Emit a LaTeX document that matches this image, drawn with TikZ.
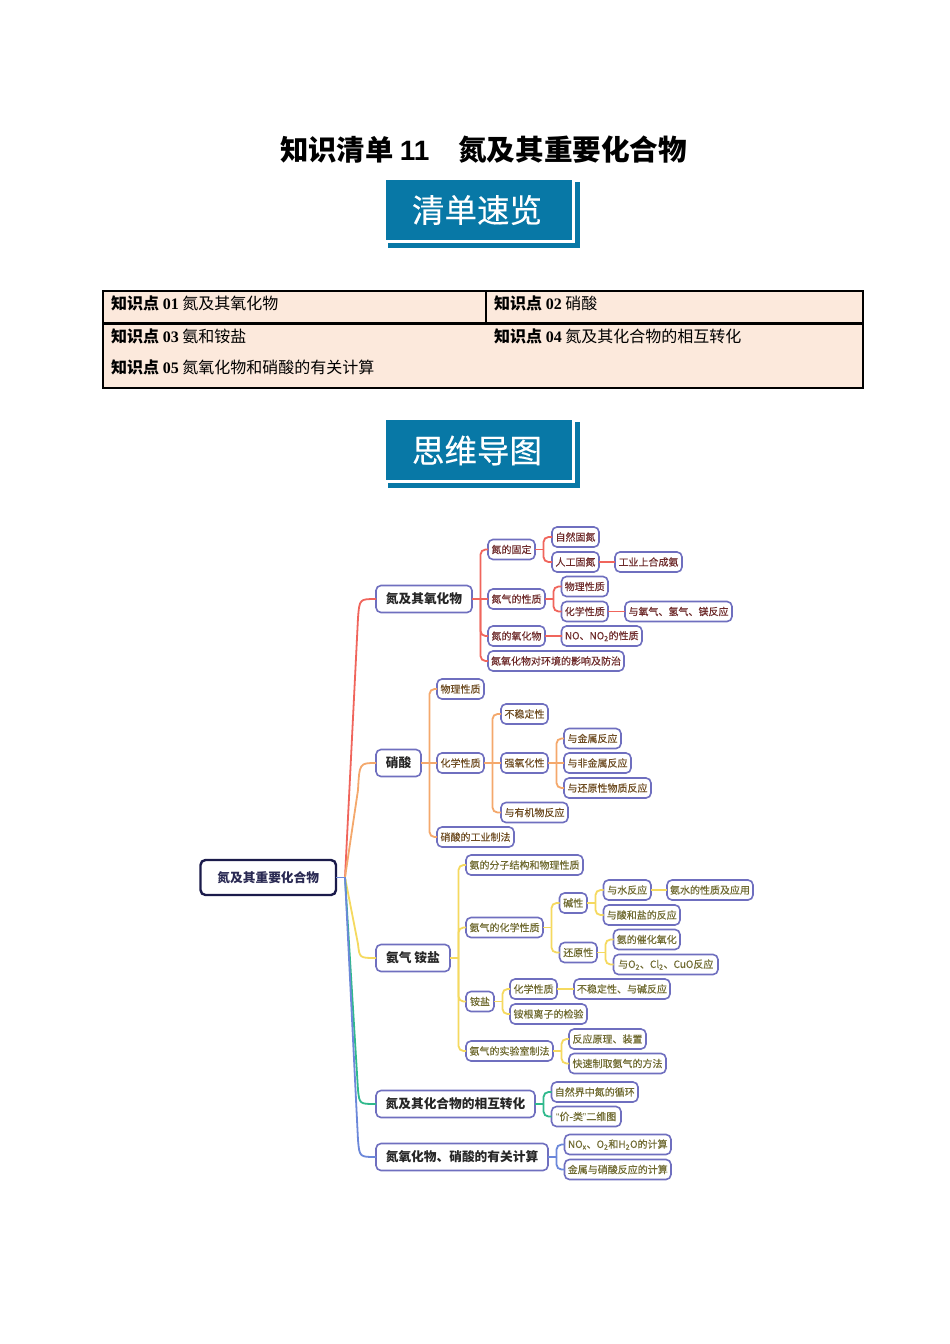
\documentclass[tikz,border=0pt]{standalone}
\usepackage{fontspec}
\setmainfont{Noto Sans CJK SC}
\newfontfamily\medf[FakeBold=0.25]{Noto Sans CJK SC}
\newfontfamily\latf{Liberation Sans}
\newfontfamily\serf{Liberation Serif}
\usetikzlibrary{calc}
\definecolor{cborder}{HTML}{6F6FBF}
\definecolor{croot}{HTML}{1B1B4B}
\definecolor{cred}{HTML}{F0655C}
\definecolor{corange}{HTML}{F4A86C}
\definecolor{cyellow}{HTML}{F5D95F}
\definecolor{cgreen}{HTML}{2FB98C}
\definecolor{cblue}{HTML}{6C88DA}
\definecolor{tred}{HTML}{6E2B2B}
\definecolor{torange}{HTML}{6E4C22}
\definecolor{tyellow}{HTML}{6F6A30}
\definecolor{banner}{HTML}{0878A6}
\definecolor{tablefill}{HTML}{FCE9DC}
\tikzset{
  mapbox/.style={draw=cborder,fill=white,line width=1.6pt,rounded corners=5pt,inner sep=0pt,outer sep=0pt,align=center},
  rootbox/.style={mapbox,draw=croot,line width=2.4pt,font=\bfseries\fontsize{12.7}{14}\selectfont,text=croot!85!gray},
  topbox/.style={mapbox,font=\bfseries\fontsize{12.7}{14}\selectfont,text=black!85},
  redbox/.style={mapbox,font=\medf\fontsize{10}{12}\selectfont,text=tred},
  orangebox/.style={mapbox,font=\medf\fontsize{10}{12}\selectfont,text=torange},
  yellowbox/.style={mapbox,font=\medf\fontsize{10}{12}\selectfont,text=tyellow},
  link/.style={line width=1.8pt,rounded corners=5pt},
  tabletext/.style={anchor=west,inner sep=0pt,font=\fontsize{16}{18}\selectfont},
  bannertext/.style={text=white,inner sep=0pt,font=\medf\fontsize{32.5}{36}\selectfont},
}
\newcommand{\nd}[7]{\node[#1,minimum width={(#4-#3)*1pt},minimum height={(#6-#5)*1pt}] (#2) at ({(#3+#4)/2},{(#5+#6)/2}) {\raisebox{-0.7pt}{#7}};}
\newcommand{\fork}[3]{\draw[link,#1] (#2.east) -- ([xshift=8.5pt]#2.east);
  \foreach \c in {#3} {\draw[link,#1] ([xshift=8.5pt]#2.east) |- (\c.west);}}
\newcommand{\st}[3]{\draw[link,#1] (#2.east) -- (#3.west);}
\newcommand{\rbr}[3]{\draw[line width=1.8pt,#1] (rj) -- ($(#2.west)+(-18,#3)$) .. controls ($(#2.west)+(-16.5,0)$) .. (#2.west);}
\newcommand{\kd}[3]{{\bfseries 知识点 \serf #1} #2}
\begin{document}
\begin{tikzpicture}[x=1pt,y=-1pt]
\useasboundingbox (0,0) rectangle (950,1344);
\fill[white] (0,0) rectangle (950,1344);
% title
\node[anchor=west,inner sep=0pt,font=\bfseries\fontsize{28.3}{32}\selectfont] (t1) at (280,149.5) {知识清单 {\latf\bfseries\fontsize{28}{32}\selectfont 11}};
\node[anchor=west,inner sep=0pt,font=\bfseries\fontsize{28.6}{32}\selectfont] (t2) at (458,149.5) {氮及其重要化合物};
% banners
\fill[banner] (388,243) rectangle (580,248);
\fill[banner] (575,182) rectangle (580,248);
\fill[banner] (386,180) rectangle (572,240);
\node[bannertext] (b1) at (477,210) {清单速览};
\fill[banner] (388,483) rectangle (580,488);
\fill[banner] (575,422) rectangle (580,488);
\fill[banner] (386,420) rectangle (572,480);
\node[bannertext] (b2) at (477,450.5) {思维导图};
% table
\fill[tablefill] (103,291) rectangle (863,388);
\draw[line width=2.5pt,black] (103,291) rectangle (863,388);
\draw[line width=2.5pt,black] (103,323.5) -- (863,323.5);
\draw[line width=2pt,black] (485.5,291) -- (485.5,323.5);
\node[tabletext] (k1) at (111,303.5) {\kd{01}{氮及其氧化物}{}};
\node[tabletext] (k2) at (494,303.5) {\kd{02}{硝酸}{}};
\node[tabletext] (k3) at (111,336.5) {\kd{03}{氨和铵盐}{}};
\node[tabletext] (k4) at (494,336.5) {\kd{04}{氮及其化合物的相互转化}{}};
\node[tabletext] (k5) at (111,367.5) {\kd{05}{氮氧化物和硝酸的有关计算}{}};
% nodes
\nd{rootbox}{root}{200.5}{336}{860}{895}{氮及其重要化合物}
\nd{topbox}{a}{376}{472}{585.5}{612.5}{氮及其氧化物}
\nd{topbox}{b}{376}{421}{749.5}{776.5}{硝酸}
\nd{topbox}{c}{376}{450}{944.5}{971.5}{氨气 铵盐}
\nd{topbox}{d}{376}{535}{1090.5}{1117.5}{氮及其化合物的相互转化}
\nd{topbox}{e}{376}{548}{1143.5}{1170.5}{氮氧化物、硝酸的有关计算}
% red
\nd{redbox}{a1}{488}{535}{539.5}{559.5}{氮的固定}
\nd{redbox}{a11}{552}{599}{527}{547}{自然固氮}
\nd{redbox}{a12}{552}{599}{552}{572}{人工固氮}
\nd{redbox}{a121}{615}{682}{552}{572}{工业上合成氨}
\nd{redbox}{a2}{488}{545}{589}{609}{氮气的性质}
\nd{redbox}{a21}{561.5}{608}{576.5}{596.5}{物理性质}
\nd{redbox}{a22}{561.5}{608}{601.5}{621.5}{化学性质}
\nd{redbox}{a221}{625}{732}{601.5}{621.5}{与氧气、氢气、镁反应}
\nd{redbox}{a3}{488}{545}{626}{646}{氮的氧化物}
\nd{redbox}{a31}{561.5}{642}{626}{646}{NO、NO\textsubscript{2}的性质}
\nd{redbox}{a4}{488}{624}{651}{671}{氮氧化物对环境的影响及防治}
% orange
\nd{orangebox}{b1n}{437}{484}{679}{699}{物理性质}
\nd{orangebox}{b2n}{437}{484}{753}{773}{化学性质}
\nd{orangebox}{b3n}{437}{514}{827}{847}{硝酸的工业制法}
\nd{orangebox}{b21}{501}{548}{704}{724}{不稳定性}
\nd{orangebox}{b22}{501}{548}{753}{773}{强氧化性}
\nd{orangebox}{b23}{501}{568}{802.5}{822.5}{与有机物反应}
\nd{orangebox}{b221}{564}{621}{728.5}{748.5}{与金属反应}
\nd{orangebox}{b222}{564}{631}{753}{773}{与非金属反应}
\nd{orangebox}{b223}{564}{651}{778}{798}{与还原性物质反应}
% yellow
\nd{yellowbox}{c1}{466}{583}{855}{875}{氨的分子结构和物理性质}
\nd{yellowbox}{c2}{466}{543}{917.5}{937.5}{氨气的化学性质}
\nd{yellowbox}{c21}{559.5}{587}{893}{913}{碱性}
\nd{yellowbox}{c211}{603.5}{651}{880}{900}{与水反应}
\nd{yellowbox}{c2111}{667}{753}{880}{900}{氨水的性质及应用}
\nd{yellowbox}{c212}{603.5}{680}{905}{925}{与酸和盐的反应}
\nd{yellowbox}{c22}{559.5}{597}{942.5}{962.5}{还原性}
\nd{yellowbox}{c221}{613.5}{680}{929.5}{949.5}{氨的催化氧化}
\nd{yellowbox}{c222}{613.5}{718}{954.5}{974.5}{与O\textsubscript{2}、Cl\textsubscript{2}、CuO反应}
\nd{yellowbox}{c3}{466}{494}{991.5}{1011.5}{铵盐}
\nd{yellowbox}{c31}{510}{557}{979}{999}{化学性质}
\nd{yellowbox}{c311}{574}{670}{979}{999}{不稳定性、与碱反应}
\nd{yellowbox}{c32}{510}{587}{1004}{1024}{铵根离子的检验}
\nd{yellowbox}{c4}{466}{553}{1041}{1061}{氨气的实验室制法}
\nd{yellowbox}{c41}{569}{646}{1029}{1049}{反应原理、装置}
\nd{yellowbox}{c42}{569}{666}{1053.5}{1073.5}{快速制取氨气的方法}
% green, blue
\nd{yellowbox}{d1}{551.5}{638}{1082}{1102}{自然界中氮的循环}
\nd{yellowbox}{d2}{551.5}{621}{1106.5}{1126.5}{{\latf “}价-类{\latf ”}二维图}
\nd{yellowbox}{e1}{564.5}{671}{1134.5}{1154.5}{NO\textsubscript{x}、O\textsubscript{2}和H\textsubscript{2}O的计算}
\nd{yellowbox}{e2}{564.5}{671}{1159.5}{1179.5}{金属与硝酸反应的计算}
% connectors: root
\coordinate (rj) at ($(root.east)+(9,0)$);
\rbr{cred}{a}{19}
\rbr{corange}{b}{27}
\rbr{cyellow}{c}{-14}
\rbr{cgreen}{d}{-14}
\rbr{cblue}{e}{-17}
\draw[line width=1.8pt,cblue] (root.east) -- (rj);
% connectors: red
\fork{cred}{a}{a1,a3,a4}
\st{cred}{a}{a2}
\fork{cred}{a1}{a11,a12}
\st{cred}{a12}{a121}
\fork{cred}{a2}{a21,a22}
\st{cred}{a22}{a221}
\st{cred}{a3}{a31}
% connectors: orange
\fork{corange}{b}{b1n,b3n}
\st{corange}{b}{b2n}
\fork{corange}{b2n}{b21,b23}
\st{corange}{b2n}{b22}
\fork{corange}{b22}{b221,b223}
\st{corange}{b22}{b222}
% connectors: yellow
\fork{cyellow}{c}{c1,c2,c3,c4}
\fork{cyellow}{c2}{c21,c22}
\fork{cyellow}{c21}{c211,c212}
\st{cyellow}{c211}{c2111}
\fork{cyellow}{c22}{c221,c222}
\fork{cyellow}{c3}{c31,c32}
\st{cyellow}{c31}{c311}
\fork{cyellow}{c4}{c41,c42}
% connectors: green, blue
\fork{cgreen}{d}{d1,d2}
\fork{cblue}{e}{e1,e2}
\end{tikzpicture}
\end{document}
